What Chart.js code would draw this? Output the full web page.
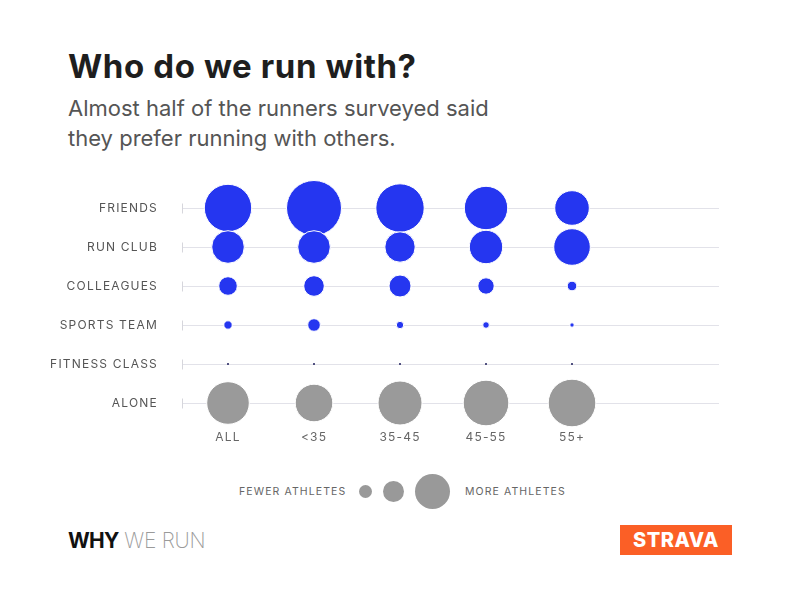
<!DOCTYPE html>
<html>
<head>
<meta charset="utf-8">
<script src="https://cdn.jsdelivr.net/npm/chart.js@4/dist/chart.umd.min.js"></script>
<style>
  body { margin: 0; background: #fff; }
  #page { position: relative; width: 800px; height: 600px; overflow: hidden; font-family: Inter, sans-serif; }
  #title { position: absolute; left: 68px; top: 50px; font-size: 33px; line-height: 33px; font-weight: 700; color: #1e1e1e; letter-spacing: 0.6px; }
  #subtitle { position: absolute; left: 68px; top: 93px; font-size: 22px; line-height: 30px; color: #555; }
  #chart { position: absolute; left: 0; top: 160px; }
  .legtxt { position: absolute; top: 485px; font-size: 10.5px; line-height: 14px; letter-spacing: 1.1px; color: #666; }
  .dot { position: absolute; border-radius: 50%; background: #999; }
  #why { position: absolute; left: 68px; top: 530px; font-size: 21px; line-height: 21px; color: #111; white-space: nowrap; }
  #why b { font-weight: 700; letter-spacing: -0.8px; }
  #why span { color: #9a9a9a; font-weight: 200; letter-spacing: -0.3px; }
  #strava { position: absolute; left: 620px; top: 525px; width: 112px; height: 30px; background: #fb5f26; color: #fff; font-weight: 800; font-size: 20px; line-height: 30px; text-align: center; letter-spacing: 0.5px; }
</style>
</head>
<body>
<div id="page">
  <div id="title">Who do we run with?</div>
  <div id="subtitle">Almost half of the runners surveyed said<br>they prefer running with others.</div>
  <canvas id="chart" width="800" height="300"></canvas>
  <div class="legtxt" style="left:239px">FEWER ATHLETES</div>
  <div class="dot" style="left:359px;top:485px;width:13px;height:13px"></div>
  <div class="dot" style="left:383px;top:481px;width:21px;height:21px"></div>
  <div class="dot" style="left:415px;top:474px;width:35px;height:35px"></div>
  <div class="legtxt" style="left:465px">MORE ATHLETES</div>
  <div id="why"><b>WHY</b> <span>WE RUN</span></div>
  <div id="strava">STRAVA</div>
</div>
<script>
const ageGroups = ['ALL', '<35', '35-45', '45-55', '55+'];
const companions = ['FRIENDS', 'RUN CLUB', 'COLLEAGUES', 'SPORTS TEAM', 'FITNESS CLASS', 'ALONE'];

// bubble radius (px), one value per age group
const friends = [23.7, 27.5, 24.2, 21.7, 17.3];
const runClub = [16.3, 16.3, 15.2, 16.7, 18.3];
const colleagues = [9.3, 10.3, 11, 8.2, 4.8];
const sportsTeam = [4.2, 6.3, 3.7, 3.3, 2.2];
const fitnessClass = [1, 1, 1, 1, 1];
const alone = [21.3, 18.8, 22, 22.8, 23.8];

const rows = [friends, runClub, colleagues, sportsTeam, fitnessClass, alone];

const BLUE = '#2536f0';
const GREY = '#9a9a9a';

const datasets = rows.map((vals, row) => ({
    label: companions[row],
    data: vals.map((r, i) => ({ x: i, y: row, r: r })),
    backgroundColor: row === 5 ? GREY : (row === 4 ? '#1c1c5a' : BLUE),
    borderColor: '#ffffff',
    borderWidth: row === 4 ? 0 : 1,
    hoverRadius: 0,
    clip: false,
    order: 10 - row
}));

// little vertical marks at the start of each row line
const rowMarks = {
    id: 'rowMarks',
    beforeDraw(chart) {
        chart.ctx.letterSpacing = '1.2px';
    },
    afterDraw(chart) {
        const ctx = chart.ctx;
        const y = chart.scales.y;
        const left = chart.chartArea.left;
        ctx.save();
        ctx.strokeStyle = '#d6d6dc';
        ctx.lineWidth = 1;
        y.ticks.forEach(t => {
            const py = Math.round(y.getPixelForValue(t.value)) + 0.5;
            ctx.beginPath();
            ctx.moveTo(left + 0.5, py - 5);
            ctx.lineTo(left + 0.5, py + 5);
            ctx.stroke();
        });
        ctx.restore();
        ctx.letterSpacing = '0px';
    }
};

new Chart(document.getElementById('chart'), {
    type: 'bubble',
    data: { datasets: datasets },
    plugins: [rowMarks],
    options: {
        responsive: false,
        animation: false,
        devicePixelRatio: 1,
        layout: { padding: { top: 48, right: 81, bottom: 7, left: 0 } },
        plugins: {
            legend: { display: false },
            tooltip: { enabled: false }
        },
        scales: {
            x: {
                type: 'linear',
                min: -0.535,
                max: 5.709,
                grid: { display: false },
                border: { display: false },
                afterBuildTicks: s => { s.ticks = ageGroups.map((g, i) => ({ value: i })); },
                ticks: {
                    autoSkip: false,
                    maxRotation: 0,
                    padding: 19,
                    color: '#666',
                    font: { family: 'Inter', size: 12 },
                    callback: v => ageGroups[v]
                },
                afterFit: s => { s.height = 50; }
            },
            y: {
                type: 'linear',
                reverse: true,
                min: 0,
                max: 5,
                z: 1,
                grid: { color: 'rgba(20,20,70,0.12)', drawTicks: false, lineWidth: 1 },
                border: { display: false },
                ticks: {
                    stepSize: 1,
                    padding: 24,
                    color: '#555',
                    font: { family: 'Inter', size: 12 },
                    callback: v => companions[v] !== undefined ? companions[v] : ''
                },
                afterFit: s => { s.width = 182; }
            }
        }
    }
});
</script>
</body>
</html>
